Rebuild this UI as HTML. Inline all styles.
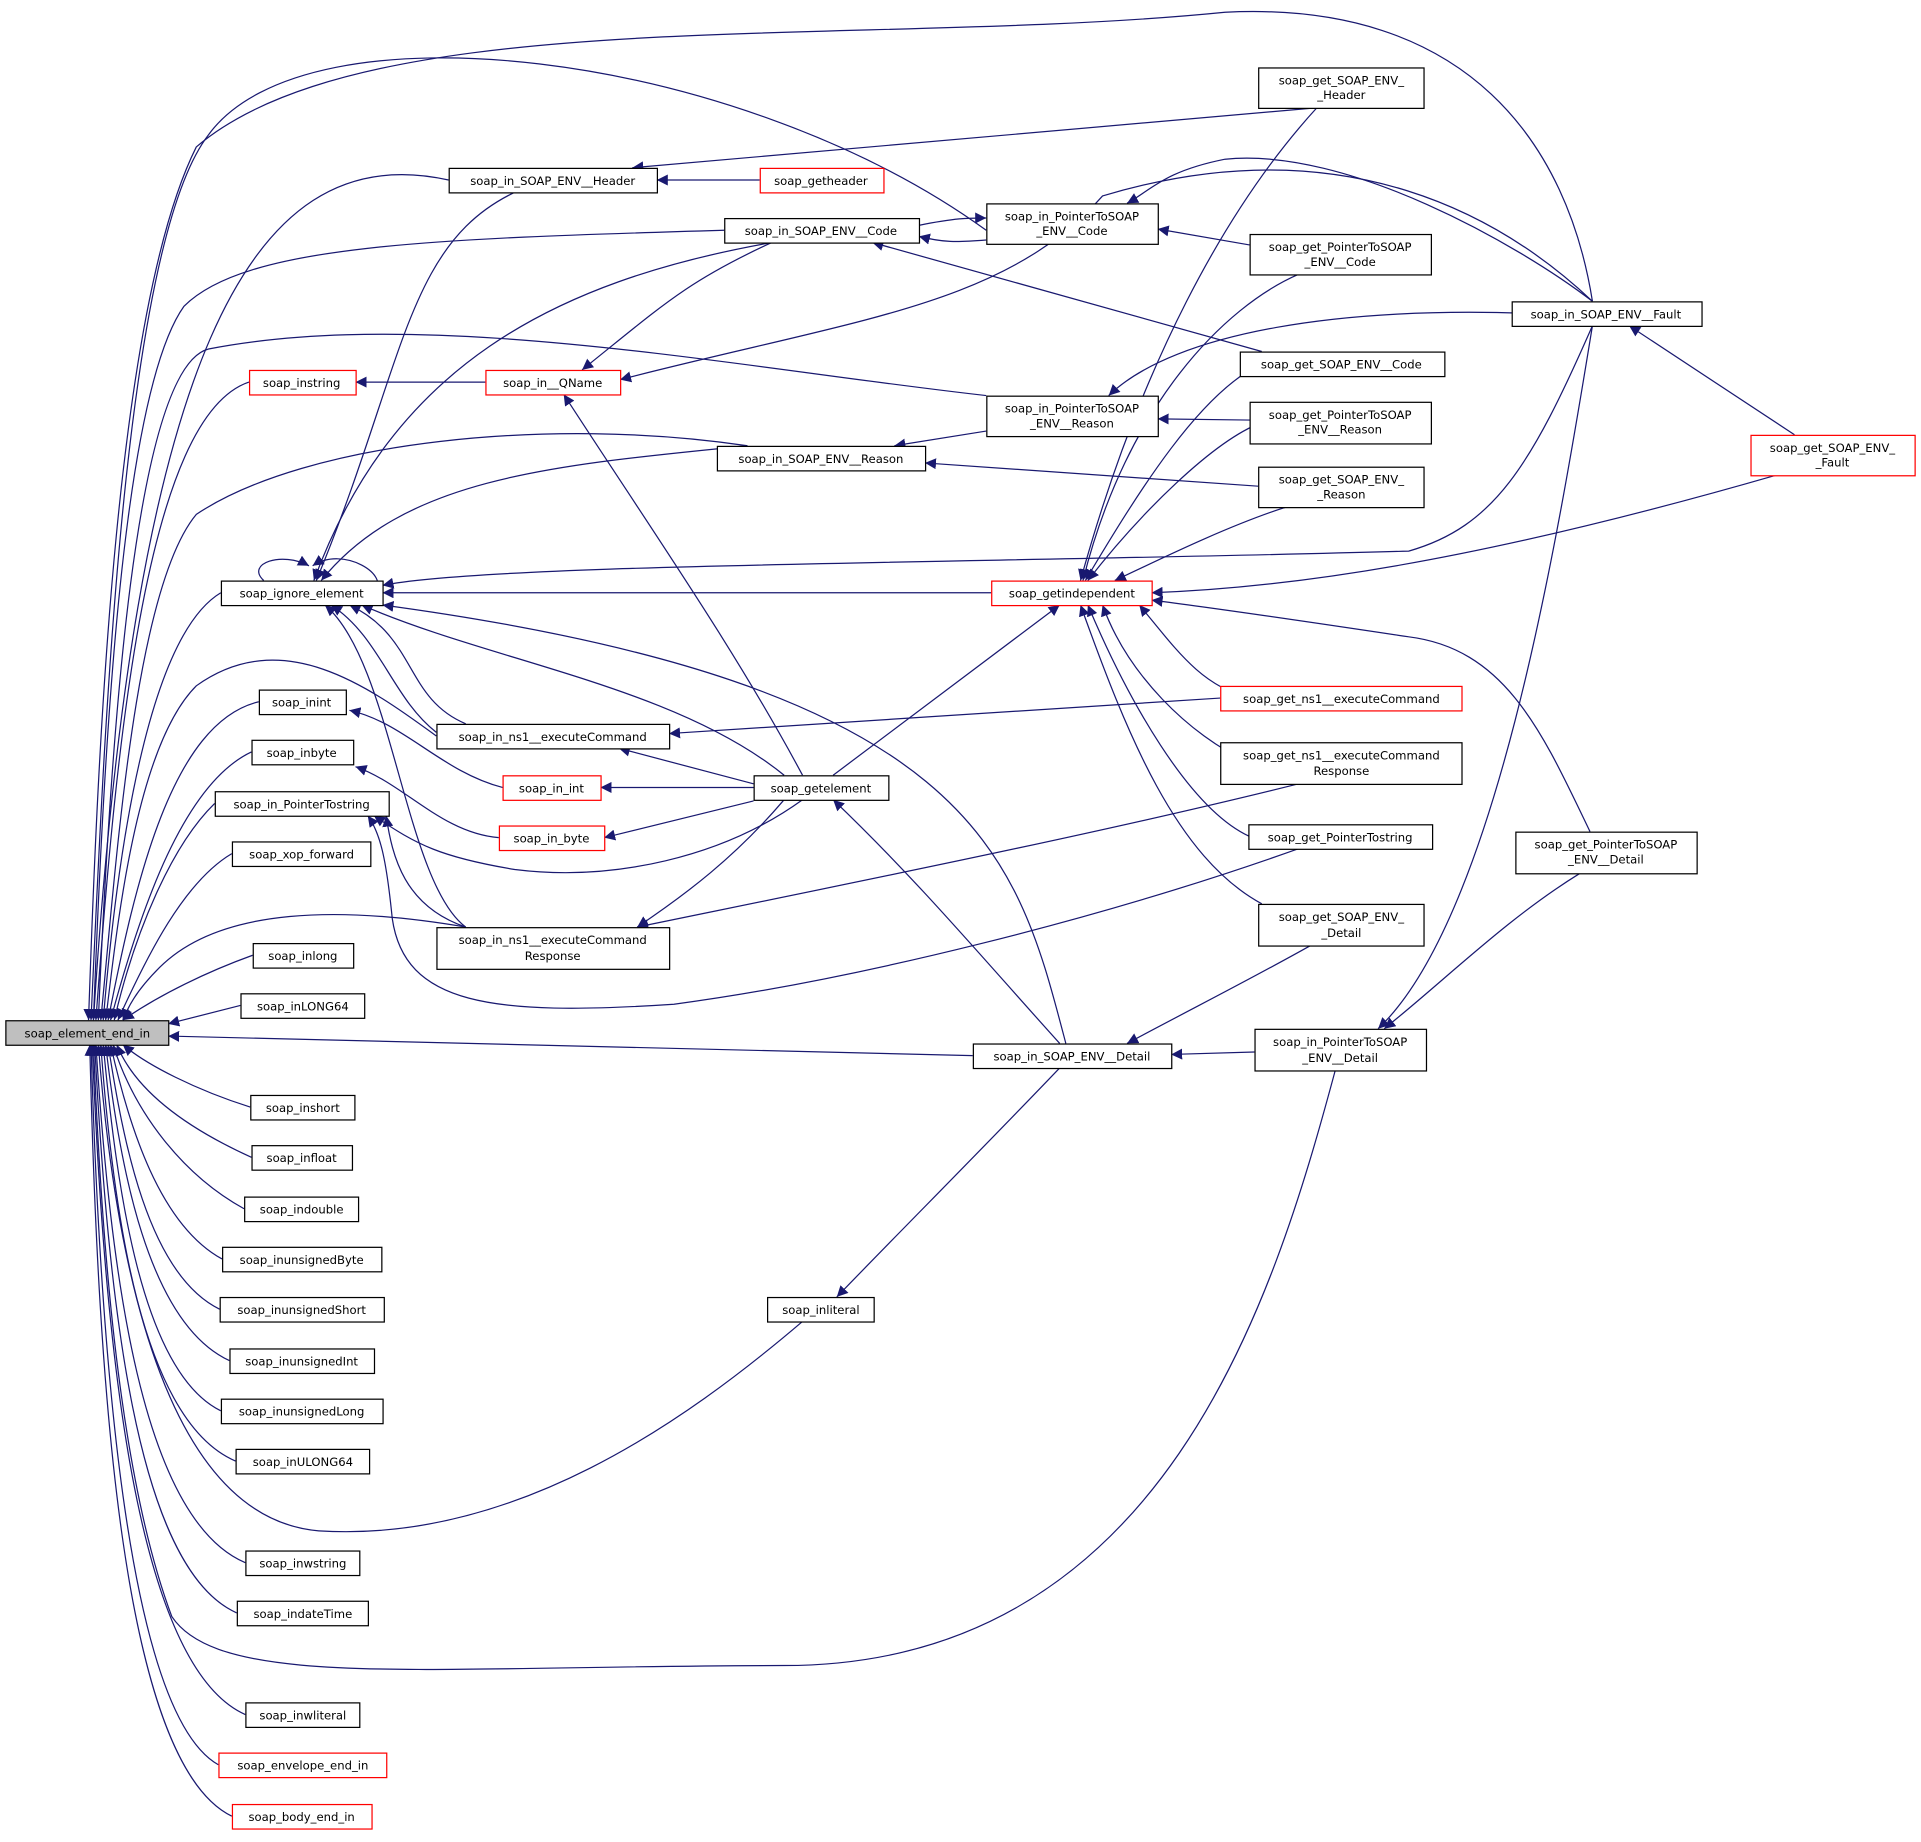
<!DOCTYPE html>
<html><head><meta charset="utf-8"><style>
html,body{margin:0;padding:0;background:#fff;}
svg text{font-family:"DejaVu Sans","Liberation Sans",sans-serif;font-size:9.5px;fill:#000;}
</style></head><body>
<svg width="1921" height="1837" viewBox="0 0 1568 1500" xmlns="http://www.w3.org/2000/svg">
<defs><marker id="a" viewBox="0 0 10 10" refX="10" refY="5" markerWidth="9" markerHeight="9" markerUnits="userSpaceOnUse" orient="auto"><path d="M0,0L10,5L0,10z" fill="#191970"/></marker></defs>
<g fill="none" stroke="#191970" stroke-width="1" marker-end="url(#a)">
<path d="M366,147 C200,110 110,300 76,833"/>
<path d="M591,188 C350,195 200,200 150,250 C100,320 85,600 76,833"/>
<path d="M805,188 C600,40 250,0 170,110 C100,200 85,600 74,833"/>
<path d="M1300,246 C1280,120 1200,0 1000,10 C700,40 300,0 160,120 C95,250 80,600 72,833"/>
<path d="M203,312 C120,340 95,600 78,833"/>
<path d="M805,323 C600,300 350,250 170,285 C110,300 90,600 80,833"/>
<path d="M610,364 C450,340 250,360 160,420 C110,480 95,700 82,833"/>
<path d="M180,484 C120,520 95,700 84,833"/>
<path d="M356,601 C300,560 230,510 160,560 C110,610 95,760 86,833"/>
<path d="M211,573 C140,590 110,720 88,833"/>
<path d="M205,614 C150,640 115,740 90,833"/>
<path d="M175,656 C140,690 110,760 93,833"/>
<path d="M189,697 C150,720 120,780 96,833"/>
<path d="M380,757 C280,740 180,740 130,790 C110,810 104,823 100,833"/>
<path d="M206,780 C170,793 130,812 100,833"/>
<path d="M196,821 L137,836"/>
<path d="M794,862 L137,846"/>
<path d="M204,904 C160,890 120,870 100,853"/>
<path d="M205,945 C150,920 110,890 95,853"/>
<path d="M199,987 C150,960 110,910 92,853"/>
<path d="M181,1028 C130,1000 105,920 90,853"/>
<path d="M179,1069 C120,1040 100,930 88,853"/>
<path d="M187,1111 C120,1080 97,950 86,853"/>
<path d="M180,1152 C115,1120 95,970 84,853"/>
<path d="M192,1193 C115,1160 92,990 82,853"/>
<path d="M655,1079 C560,1160 420,1260 260,1250 C140,1240 95,1050 80,853"/>
<path d="M200,1276 C115,1240 90,1040 78,853"/>
<path d="M193,1317 C110,1280 88,1060 77,853"/>
<path d="M1090,874 C1040,1060 950,1360 640,1360 C350,1360 180,1380 140,1320 C95,1200 82,1000 76,853"/>
<path d="M200,1400 C110,1360 85,1100 75,853"/>
<path d="M178,1441 C105,1400 82,1120 74,853"/>
<path d="M189,1483 C100,1440 80,1140 73,853"/>
<path d="M620,147 L536,147"/>
<path d="M1075,88 L516,137"/>
<path d="M420,157 C330,200 330,300 258,474"/>
<path d="M630,198 C450,230 320,300 256,474"/>
<path d="M305,484 C320,470 280,445 255,462"/>
<path d="M215,474 C200,460 230,450 252,462"/>
<path d="M750,184 C780,178 790,178 805,178"/>
<path d="M805,196 C780,198 770,198 750,193"/>
<path d="M1020,200 L945,187"/>
<path d="M1030,287 L712,198"/>
<path d="M630,198 C560,230 540,250 475,302"/>
<path d="M1300,246 C1240,200 1100,120 1000,130 C950,140 940,155 920,166"/>
<path d="M1300,246 C1230,180 1100,100 900,160 C820,250 700,260 506,310"/>
<path d="M396,312 L290,312"/>
<path d="M655,633 C600,530 530,430 460,322"/>
<path d="M1250,256 C1100,250 960,270 905,323"/>
<path d="M1020,343 L945,342"/>
<path d="M805,352 L730,364"/>
<path d="M1027,397 L755,378"/>
<path d="M610,364 C450,380 330,390 262,474"/>
<path d="M1465,355 L1330,266"/>
<path d="M1300,266 C1250,380 1220,430 1150,450 C800,460 400,460 312,478"/>
<path d="M809,484 L312,484"/>
<path d="M1450,388 C1200,460 1050,480 940,484"/>
<path d="M1075,88 C1000,170 930,300 882,474"/>
<path d="M1060,224 C1000,250 920,330 884,474"/>
<path d="M1030,297 C980,320 930,400 886,474"/>
<path d="M1030,345 C990,360 930,420 888,474"/>
<path d="M1050,414 C1000,430 940,460 910,474"/>
<path d="M1020,570 C980,560 960,530 930,494"/>
<path d="M1020,623 C970,600 920,550 900,494"/>
<path d="M1020,683 C970,660 920,570 888,494"/>
<path d="M1030,738 C960,700 920,600 882,494"/>
<path d="M1298,679 C1260,600 1230,530 1150,520 C1050,505 980,495 940,490"/>
<path d="M680,633 L865,494"/>
<path d="M996,570 L546,599"/>
<path d="M615,640 L505,611"/>
<path d="M380,591 C330,570 340,520 285,494"/>
<path d="M356,598 C320,570 310,520 270,494"/>
<path d="M640,633 C550,560 400,540 295,494"/>
<path d="M870,852 C830,700 800,560 312,494"/>
<path d="M380,757 C330,720 320,540 265,494"/>
<path d="M410,643 C360,630 330,590 285,580"/>
<path d="M407,684 C360,680 330,640 290,626"/>
<path d="M615,643 L490,643"/>
<path d="M615,654 L493,684"/>
<path d="M655,653 C590,700 500,720 420,710 C360,700 340,690 305,666"/>
<path d="M380,757 C330,740 320,700 315,666"/>
<path d="M1060,693 C900,750 700,800 550,820 C400,830 330,820 320,750 C315,700 310,680 300,666"/>
<path d="M1060,640 C900,680 700,720 520,757"/>
<path d="M640,653 C600,700 560,730 520,757"/>
<path d="M865,852 C800,780 750,720 680,653"/>
<path d="M1070,772 C1020,800 980,820 920,852"/>
<path d="M1024,859 L956,861"/>
<path d="M865,872 C800,940 740,1000 683,1059"/>
<path d="M1300,266 C1270,450 1220,750 1125,840"/>
<path d="M1290,713 C1230,750 1180,800 1130,840"/>
</g>
<g stroke-width="1">
<rect x="4.5" y="833.5" width="133" height="20" fill="#bfbfbf" stroke="#000"/><text x="71" y="847" text-anchor="middle">soap_element_end_in</text>
<g fill="#fff" stroke="#000">
<rect x="366.5" y="137.5" width="170" height="20"/><rect x="1027.5" y="55.5" width="135" height="33"/>
<rect x="591.5" y="178.5" width="159" height="20"/><rect x="805.5" y="166.5" width="140" height="33"/>
<rect x="1020.5" y="191.5" width="148" height="33"/><rect x="1234.5" y="246.5" width="155" height="20"/>
<rect x="1012.5" y="287.5" width="167" height="20"/><rect x="805.5" y="323.5" width="140" height="33"/>
<rect x="1020.5" y="328.5" width="148" height="34"/><rect x="585.5" y="364.5" width="170" height="20"/>
<rect x="1027.5" y="381.5" width="135" height="33"/><rect x="180.5" y="474.5" width="132" height="20"/>
<rect x="211.5" y="563.5" width="71" height="20"/><rect x="356.5" y="591.5" width="190" height="20"/>
<rect x="205.5" y="604.5" width="83" height="20"/><rect x="615.5" y="633.5" width="110" height="20"/>
<rect x="996.5" y="606.5" width="197" height="34"/><rect x="175.5" y="646.5" width="142" height="20"/>
<rect x="1019.5" y="673.5" width="150" height="20"/><rect x="1237.5" y="679.5" width="148" height="34"/>
<rect x="189.5" y="687.5" width="113" height="20"/><rect x="356.5" y="757.5" width="190" height="34"/>
<rect x="1027.5" y="738.5" width="135" height="34"/><rect x="206.5" y="770.5" width="82" height="20"/>
<rect x="196.5" y="811.5" width="101" height="20"/><rect x="794.5" y="852.5" width="162" height="20"/>
<rect x="1024.5" y="840.5" width="140" height="34"/><rect x="204.5" y="894.5" width="85" height="20"/>
<rect x="205.5" y="935.5" width="82" height="20"/><rect x="199.5" y="977.5" width="93" height="20"/>
<rect x="181.5" y="1018.5" width="130" height="20"/><rect x="179.5" y="1059.5" width="134" height="20"/>
<rect x="626.5" y="1059.5" width="87" height="20"/><rect x="187.5" y="1101.5" width="118" height="20"/>
<rect x="180.5" y="1142.5" width="132" height="20"/><rect x="192.5" y="1183.5" width="109" height="20"/>
<rect x="200.5" y="1266.5" width="93" height="20"/><rect x="193.5" y="1307.5" width="107" height="20"/>
<rect x="200.5" y="1390.5" width="93" height="20"/>
</g>
<g fill="#fff" stroke="#ff0000">
<rect x="620.5" y="137.5" width="101" height="20"/><rect x="1429.5" y="355.5" width="134" height="33"/>
<rect x="203.5" y="302.5" width="87" height="20"/><rect x="396.5" y="302.5" width="110" height="20"/>
<rect x="809.5" y="474.5" width="131" height="20"/><rect x="996.5" y="560.5" width="197" height="20"/>
<rect x="410.5" y="633.5" width="80" height="20"/><rect x="407.5" y="674.5" width="86" height="20"/>
<rect x="178.5" y="1431.5" width="137" height="20"/><rect x="189.5" y="1473.5" width="114" height="20"/>
</g>
</g>
<g text-anchor="middle">
<text x="451" y="151">soap_in_SOAP_ENV__Header</text>
<text x="1095" y="69">soap_get_SOAP_ENV_</text><text x="1095" y="81">_Header</text>
<text x="670" y="151">soap_getheader</text>
<text x="670" y="192">soap_in_SOAP_ENV__Code</text>
<text x="875" y="180">soap_in_PointerToSOAP</text><text x="875" y="192">_ENV__Code</text>
<text x="1094" y="205">soap_get_PointerToSOAP</text><text x="1094" y="217">_ENV__Code</text>
<text x="1311" y="260">soap_in_SOAP_ENV__Fault</text>
<text x="1095" y="301">soap_get_SOAP_ENV__Code</text>
<text x="1496" y="369">soap_get_SOAP_ENV_</text><text x="1496" y="381">_Fault</text>
<text x="246" y="316">soap_instring</text>
<text x="451" y="316">soap_in__QName</text>
<text x="875" y="337">soap_in_PointerToSOAP</text><text x="875" y="349">_ENV__Reason</text>
<text x="1094" y="342">soap_get_PointerToSOAP</text><text x="1094" y="354">_ENV__Reason</text>
<text x="670" y="378">soap_in_SOAP_ENV__Reason</text>
<text x="1095" y="395">soap_get_SOAP_ENV_</text><text x="1095" y="407">_Reason</text>
<text x="246" y="488">soap_ignore_element</text>
<text x="875" y="488">soap_getindependent</text>
<text x="1095" y="574">soap_get_ns1__executeCommand</text>
<text x="246" y="577">soap_inint</text>
<text x="451" y="605">soap_in_ns1__executeCommand</text>
<text x="246" y="618">soap_inbyte</text>
<text x="450" y="647">soap_in_int</text>
<text x="670" y="647">soap_getelement</text>
<text x="1095" y="620">soap_get_ns1__executeCommand</text><text x="1095" y="633">Response</text>
<text x="246" y="660">soap_in_PointerTostring</text>
<text x="450" y="688">soap_in_byte</text>
<text x="1094" y="687">soap_get_PointerTostring</text>
<text x="1311" y="693">soap_get_PointerToSOAP</text><text x="1311" y="705">_ENV__Detail</text>
<text x="246" y="701">soap_xop_forward</text>
<text x="451" y="771">soap_in_ns1__executeCommand</text><text x="451" y="784">Response</text>
<text x="1095" y="752">soap_get_SOAP_ENV_</text><text x="1095" y="765">_Detail</text>
<text x="247" y="784">soap_inlong</text>
<text x="247" y="825">soap_inLONG64</text>
<text x="875" y="866">soap_in_SOAP_ENV__Detail</text>
<text x="1094" y="854">soap_in_PointerToSOAP</text><text x="1094" y="867">_ENV__Detail</text>
<text x="247" y="908">soap_inshort</text>
<text x="246" y="949">soap_infloat</text>
<text x="246" y="991">soap_indouble</text>
<text x="246" y="1032">soap_inunsignedByte</text>
<text x="246" y="1073">soap_inunsignedShort</text>
<text x="670" y="1073">soap_inliteral</text>
<text x="246" y="1115">soap_inunsignedInt</text>
<text x="246" y="1156">soap_inunsignedLong</text>
<text x="247" y="1197">soap_inULONG64</text>
<text x="247" y="1280">soap_inwstring</text>
<text x="247" y="1321">soap_indateTime</text>
<text x="247" y="1404">soap_inwliteral</text>
<text x="247" y="1445">soap_envelope_end_in</text>
<text x="246" y="1487">soap_body_end_in</text>
</g>
</svg>
</body></html>
